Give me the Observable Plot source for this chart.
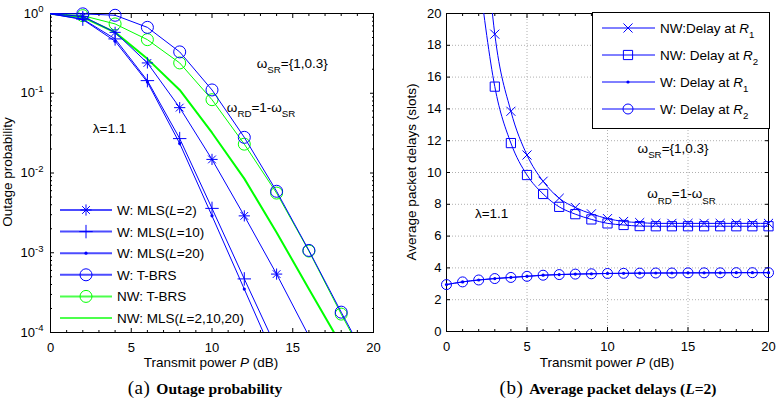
<!DOCTYPE html>
<html><head><meta charset="utf-8">
<script src="https://cdn.jsdelivr.net/npm/d3@7"></script>
<script src="https://cdn.jsdelivr.net/npm/@observablehq/plot@0.6"></script>
<style>
html,body{margin:0;padding:0;background:#fff;}
#wrap{position:relative;width:777px;height:403px;overflow:hidden;background:#fff;}
.panel{position:absolute;top:0;}
.cap{position:absolute;top:377px;font-family:"Times New Roman","Liberation Serif",serif;white-space:nowrap;transform:translateX(-50%);color:#000;line-height:22px;}
.cap .tag{font-size:19px;letter-spacing:0.5px;margin-right:6px;}
.cap .txt{font-size:15.5px;font-weight:bold;}
</style></head><body>
<div id="wrap"></div>
<script>
const BLUE = "#0000ff", GREEN = "#00ff00";
const FONT = "Arial, 'Liberation Sans', sans-serif";

// ---------- Panel (a): outage probability ----------
const powerA = [0, 2, 4, 6, 8, 10, 12, 14, 16, 18, 20];
const wMLS2  = [0.99, 0.92, 0.58, 0.24, 0.066, 0.0148, 0.0029, 0.00054, 0.00009, 0.000015, 0.0000025];
const wMLS10 = [0.99, 0.85, 0.48, 0.144, 0.027, 0.0036, 0.00047, 0.000063, 0.0000085, 0.0000012, 0.0000002];
const wMLS20 = [0.99, 0.84, 0.45, 0.138, 0.0235, 0.0029, 0.00035, 0.000042, 0.000005, 0.0000006, 0.0000001];
const wTBRS  = [1.0, 0.99, 0.95, 0.67, 0.33, 0.11, 0.028, 0.0059, 0.00107, 0.00018, 0.000032];
const nwTBRS = [0.99, 0.94, 0.74, 0.47, 0.24, 0.083, 0.023, 0.0056, 0.00105, 0.00017, 0.00003];
const nwMLS  = [0.99, 0.9, 0.58, 0.27, 0.11, 0.032, 0.0085, 0.0018, 0.00035, 0.00007, 0.000013];
const xTicksA = [0, 5, 10, 15, 20];
const yTicksA = [1e-4, 1e-3, 1e-2, 1e-1, 1];
const yTickLabelsA = ["10^-4", "10^-3", "10^-2", "10^-1", "10^0"];

// ---------- Panel (b): average packet delays ----------
const powerB = [0, 1, 2, 3, 4, 5, 6, 7, 8, 9, 10, 11, 12, 13, 14, 15, 16, 17, 18, 19, 20];
const nwR1 = [null, null, 30, 18.7, 13.85, 11.1, 9.45, 8.38, 7.8, 7.4, 7.1, 6.92, 6.85, 6.8, 6.8, 6.8, 6.8, 6.8, 6.8, 6.8, 6.8];
const nwR2 = [null, null, 22.5, 15.4, 11.85, 9.84, 8.65, 7.84, 7.38, 7.05, 6.8, 6.7, 6.63, 6.62, 6.62, 6.62, 6.62, 6.62, 6.62, 6.62, 6.62];
const wR1  = [2.95, 3.12, 3.24, 3.33, 3.4, 3.47, 3.54, 3.58, 3.61, 3.63, 3.65, 3.66, 3.67, 3.68, 3.68, 3.69, 3.69, 3.69, 3.7, 3.7, 3.7];
const wR2  = [2.95, 3.12, 3.24, 3.33, 3.4, 3.47, 3.54, 3.58, 3.61, 3.63, 3.65, 3.66, 3.67, 3.68, 3.68, 3.69, 3.69, 3.69, 3.7, 3.7, 3.7];
const xTicksB = [0, 5, 10, 15, 20];
const yTicksB = [0, 2, 4, 6, 8, 10, 12, 14, 16, 18, 20];

const rows = (xs, ys) => xs.map((p, i) => ({p, v: ys[i]})).filter(d => d.v != null);

const minorX = d3.range(0, 20.01, 1).filter(v => v % 5 !== 0);
const minorYA = [];
for (let e = -4; e < 0; e++) for (let k = 2; k <= 9; k++) minorYA.push(k * Math.pow(10, e));

const none = () => "";
function boxAxes({xMajor, xMinor, yMajor, yMinor, yFormat, yPad}) {
  const m = [];
  for (const anchor of ["bottom", "top"]) {
    m.push(Plot.axisX({anchor, ticks: xMinor, tickSize: -2, tickFormat: none, label: null}));
    m.push(Plot.axisX({anchor, ticks: xMajor, tickSize: -4, tickFormat: none, label: null}));
  }
  for (const anchor of ["left", "right"]) {
    if (yMinor.length) m.push(Plot.axisY({anchor, ticks: yMinor, tickSize: -2, tickFormat: none, label: null}));
    m.push(Plot.axisY({anchor, ticks: yMajor, tickSize: -4, tickFormat: none, label: null}));
  }
  m.push(Plot.axisX({anchor: "bottom", ticks: xMajor, tickSize: 0, tickPadding: 10, label: null}));
  m.push(Plot.axisY({anchor: "left", ticks: yMajor, tickSize: 0, tickPadding: yPad, tickFormat: yFormat, label: null}));
  m.push(Plot.frame({stroke: "#000"}));
  return m;
}

const styleOpts = {fontFamily: FONT, fontSize: "13px", color: "#000", background: "transparent", overflow: "visible"};

const A = {
  wMLS2: rows(powerA, wMLS2), wMLS10: rows(powerA, wMLS10), wMLS20: rows(powerA, wMLS20),
  wTBRS: rows(powerA, wTBRS), nwTBRS: rows(powerA, nwTBRS), nwMLS: rows(powerA, nwMLS)
};
const mk = d => d.p >= 2 && d.v >= 1e-4;

const plotA = Plot.plot({
  width: 390, height: 372,
  marginLeft: 50, marginRight: 17, marginTop: 13, marginBottom: 40,
  x: {domain: [0, 20]},
  y: {type: "log", domain: [1e-4, 1]},
  style: styleOpts,
  marks: [
    ...boxAxes({xMajor: xTicksA, xMinor: minorX, yMajor: yTicksA, yMinor: minorYA,
      yFormat: d => yTickLabelsA[yTicksA.findIndex(t => Math.abs(t - d) < d * 1e-6)], yPad: 7}),
    Plot.line(A.nwMLS, {x: "p", y: "v", stroke: GREEN, strokeWidth: 2, clip: true}),
    Plot.line(A.nwTBRS, {x: "p", y: "v", stroke: GREEN, strokeWidth: 1, clip: true}),
    Plot.dot(A.nwTBRS.filter(mk), {x: "p", y: "v", r: 6, stroke: GREEN, fill: "none", strokeWidth: 1}),
    Plot.line(A.wTBRS, {x: "p", y: "v", stroke: BLUE, strokeWidth: 1, clip: true}),
    Plot.dot(A.wTBRS.filter(mk), {x: "p", y: "v", r: 6, stroke: BLUE, fill: "none", strokeWidth: 1}),
    Plot.line(A.wMLS2, {x: "p", y: "v", stroke: BLUE, strokeWidth: 1, clip: true}),
    Plot.dot(A.wMLS2.filter(mk), {x: "p", y: "v", symbol: "plus", r: 3.7, stroke: BLUE, strokeWidth: 1}),
    Plot.dot(A.wMLS2.filter(mk), {x: "p", y: "v", symbol: "times", r: 3.6, stroke: BLUE, strokeWidth: 1}),
    Plot.line(A.wMLS10, {x: "p", y: "v", stroke: BLUE, strokeWidth: 1, clip: true}),
    Plot.dot(A.wMLS10.filter(mk), {x: "p", y: "v", symbol: "plus", r: 4.4, stroke: BLUE, strokeWidth: 1}),
    Plot.line(A.wMLS20, {x: "p", y: "v", stroke: BLUE, strokeWidth: 1, clip: true}),
    Plot.dot(A.wMLS20.filter(mk), {x: "p", y: "v", r: 1.6, fill: BLUE, stroke: "none"})
  ]
});

const B = {
  nwR1: rows(powerB, nwR1), nwR2: rows(powerB, nwR2), wR1: rows(powerB, wR1), wR2: rows(powerB, wR2)
};
const mkB = d => d.v <= 20;

const plotB = Plot.plot({
  width: 387, height: 372,
  marginLeft: 56, marginRight: 9, marginTop: 13, marginBottom: 41,
  x: {domain: [0, 20]},
  y: {domain: [0, 20]},
  style: styleOpts,
  marks: [
    Plot.gridX({ticks: xTicksB, stroke: "#b0b0b0", strokeOpacity: 1, strokeDasharray: "1,2"}),
    Plot.gridY({ticks: yTicksB, stroke: "#b0b0b0", strokeOpacity: 1, strokeDasharray: "1,2"}),
    ...boxAxes({xMajor: xTicksB, xMinor: minorX, yMajor: yTicksB, yMinor: [], yFormat: d => String(d), yPad: 5}),
    Plot.line(B.nwR1, {x: "p", y: "v", stroke: BLUE, strokeWidth: 1, curve: "monotone-x", clip: true}),
    Plot.dot(B.nwR1.filter(mkB), {x: "p", y: "v", symbol: "times", r: 4.2, stroke: BLUE, strokeWidth: 1}),
    Plot.line(B.nwR2, {x: "p", y: "v", stroke: BLUE, strokeWidth: 1, curve: "monotone-x", clip: true}),
    Plot.dot(B.nwR2.filter(mkB), {x: "p", y: "v", symbol: "square", r: 5.2, stroke: BLUE, fill: "none", strokeWidth: 1}),
    Plot.line(B.wR1, {x: "p", y: "v", stroke: BLUE, strokeWidth: 1, curve: "monotone-x", clip: true}),
    Plot.dot(B.wR1, {x: "p", y: "v", r: 1.6, fill: BLUE, stroke: "none"}),
    Plot.line(B.wR2, {x: "p", y: "v", stroke: BLUE, strokeWidth: 1, curve: "monotone-x", clip: true}),
    Plot.dot(B.wR2, {x: "p", y: "v", r: 5, stroke: BLUE, fill: "none", strokeWidth: 1})
  ]
});

// ---------- helpers for rich text ----------
function rich(g, x, y, parts, {anchor = "start", size = 13.5, rotate = null, family = FONT} = {}) {
  const t = g.append("text").attr("x", x).attr("y", y).attr("text-anchor", anchor)
    .attr("font-size", size).attr("font-family", family).attr("fill", "#000");
  if (rotate != null) t.attr("transform", `rotate(${rotate},${x},${y})`);
  let shift = 0;
  for (const p of parts) {
    const o = typeof p === "string" ? {t: p} : p;
    const target = o.sub ? size * 0.38 : o.sup ? -size * 0.45 : 0;
    const ts = t.append("tspan").text(o.t).attr("dy", target - shift);
    if (o.sub || o.sup) ts.attr("font-size", size * 0.72);
    if (o.i) ts.attr("font-style", "italic");
    shift = target;
  }
  return t;
}

function superscriptTicks(svg) {
  svg.selectAll('g[aria-label="y-axis tick label"] text').each(function () {
    const s = this.textContent;
    if (s && s.startsWith("10^")) {
      const e = s.slice(3);
      const t = d3.select(this);
      t.text("10");
      t.append("tspan").attr("dy", "-0.55em").attr("font-size", "9.5px").text(e);
    }
  });
}

function drawMarker(g, x, y, type, color) {
  const add = (sym, r) => g.append("path").attr("transform", `translate(${x},${y})`)
    .attr("d", d3.symbol(sym, Math.PI * r * r)()).attr("fill", "none").attr("stroke", color).attr("stroke-width", 1);
  if (type === "asterisk") { add(d3.symbolPlus, 3.7); add(d3.symbolTimes, 3.6); }
  else if (type === "plus") add(d3.symbolPlus, 4.4);
  else if (type === "times") add(d3.symbolTimes, 4.2);
  else if (type === "square") add(d3.symbolSquare, 5.2);
  else if (type === "circle") g.append("circle").attr("cx", x).attr("cy", y).attr("r", 6).attr("fill", "none").attr("stroke", color);
  else if (type === "circle5") g.append("circle").attr("cx", x).attr("cy", y).attr("r", 5).attr("fill", "none").attr("stroke", color);
  else if (type === "dot") g.append("circle").attr("cx", x).attr("cy", y).attr("r", 1.6).attr("fill", color);
}

const wrap = d3.select("#wrap");
const divA = wrap.append("div").attr("class", "panel").style("left", "0px");
const divB = wrap.append("div").attr("class", "panel").style("left", "390px");
divA.node().appendChild(plotA);
divB.node().appendChild(plotB);

// ---------- Panel (a) decorations ----------
{
  const svg = d3.select(plotA);
  superscriptTicks(svg);
  const sx = plotA.scale("x"), sy = plotA.scale("y");
  const g = svg.append("g");
  rich(g, 12, 172, ["Outage probability"], {anchor: "middle", rotate: -90});
  rich(g, 211, 367, ["Transmit power ", {t: "P", i: true}, " (dB)"], {anchor: "middle"});
  rich(g, sx.apply(2.65), sy.apply(0.036) + 5, ["λ=1.1"]);
  rich(g, sx.apply(12.8), sy.apply(0.234) + 5, ["ω", {t: "SR", sub: true}, "={1,0.3}"]);
  rich(g, sx.apply(10.95), sy.apply(0.066) + 5, ["ω", {t: "RD", sub: true}, "=1-ω", {t: "SR", sub: true}]);

  const legendA = [
    {label: ["W: MLS(", {t: "L", i: true}, "=2)"], color: BLUE, marker: "asterisk"},
    {label: ["W: MLS(", {t: "L", i: true}, "=10)"], color: BLUE, marker: "plus"},
    {label: ["W: MLS(", {t: "L", i: true}, "=20)"], color: BLUE, marker: "dot"},
    {label: ["W: T-BRS"], color: BLUE, marker: "circle"},
    {label: ["NW: T-BRS"], color: GREEN, marker: "circle"},
    {label: ["NW: MLS(", {t: "L", i: true}, "=2,10,20)"], color: GREEN, marker: null}
  ];
  legendA.forEach((e, i) => {
    const y = 210 + i * 21.6;
    g.append("line").attr("x1", 60).attr("x2", 112).attr("y1", y).attr("y2", y)
      .attr("stroke", e.color).attr("stroke-width", 2).attr("stroke-opacity", 0.7);
    drawMarker(g, 86, y, e.marker, e.color);
    rich(g, 117, y + 5, e.label);
  });
}

// ---------- Panel (b) decorations ----------
{
  const svg = d3.select(plotB);
  const sx = plotB.scale("x"), sy = plotB.scale("y");
  const g = svg.append("g");
  rich(g, 26, 172, ["Average packet delays (slots)"], {anchor: "middle", rotate: -90});
  rich(g, 217, 367, ["Transmit power ", {t: "P", i: true}, " (dB)"], {anchor: "middle"});
  rich(g, sx.apply(1.8), sy.apply(7.4) + 5, ["λ=1.1"]);
  rich(g, sx.apply(11.9), sy.apply(11.5) + 5, ["ω", {t: "SR", sub: true}, "={1,0.3}"]);
  rich(g, sx.apply(12.5), sy.apply(8.65) + 5, ["ω", {t: "RD", sub: true}, "=1-ω", {t: "SR", sub: true}]);

  g.append("rect").attr("x", 202.5).attr("y", 12.5).attr("width", 177).attr("height", 116)
    .attr("fill", "#fff").attr("stroke", "#000").attr("stroke-width", 1);
  const legendB = [
    {label: ["NW:Delay at ", {t: "R", i: true}, {t: "1", sub: true}], marker: "times"},
    {label: ["NW: Delay at ", {t: "R", i: true}, {t: "2", sub: true}], marker: "square"},
    {label: ["W: Delay at ", {t: "R", i: true}, {t: "1", sub: true}], marker: "dot"},
    {label: ["W: Delay at ", {t: "R", i: true}, {t: "2", sub: true}], marker: "circle5"}
  ];
  legendB.forEach((e, i) => {
    const y = 28 + i * 27;
    g.append("line").attr("x1", 212).attr("x2", 265).attr("y1", y).attr("y2", y)
      .attr("stroke", BLUE).attr("stroke-width", 1);
    drawMarker(g, 238, y, e.marker, BLUE);
    rich(g, 270, y + 5, e.label);
  });
}

// ---------- captions ----------
wrap.append("div").attr("class", "cap").style("left", "205px")
  .html('<span class="tag">(a)</span><span class="txt">Outage probability</span>');
wrap.append("div").attr("class", "cap").style("left", "608px")
  .html('<span class="tag">(b)</span><span class="txt">Average packet delays (<i>L</i>=2)</span>');
</script>
</body></html>
